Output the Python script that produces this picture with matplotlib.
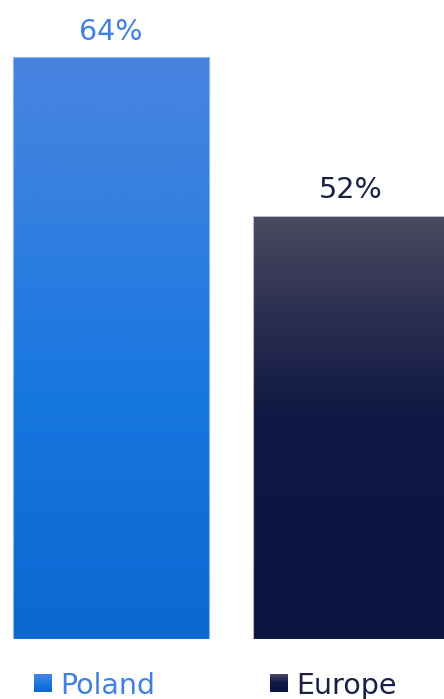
import numpy as np
import matplotlib.pyplot as plt
from matplotlib.colors import LinearSegmentedColormap
from matplotlib.patches import Rectangle

# data
regions = ["Poland", "Europe"]
shares = [64, 52]
labels = ["64%", "52%"]

# vertical gradient stops (position from top, colour) for each bar
gradients = [
    [(0.0, "#4a84e0"), (0.25, "#3580e0"), (0.59, "#1676e0"), (1.0, "#0d67d3")],
    [(0.0, "#4a4a60"), (0.2, "#303254"), (0.48, "#0e1842"), (1.0, "#0c1540")],
]
label_colors = ["#3f80e0", "#1a1f45"]
edge_colors = ["#8ab4f0", "#b8bac8"]

plt.rcParams["font.family"] = ["DejaVu Sans"]

W, H = 444, 699
fig = plt.figure(figsize=(W / 100, H / 100), dpi=100)
ax = fig.add_axes([0, 60 / H, 1, 639 / H])

x = np.arange(len(regions))
width = 0.817
base = 20
bars = ax.bar(x, np.array(shares) - base, width, bottom=base,
              color="none", edgecolor="none")

for bar, stops, ec in zip(bars, gradients, edge_colors):
    cmap = LinearSegmentedColormap.from_list("g", stops)
    grad = np.linspace(0, 1, 256).reshape(-1, 1)
    x0, y0 = bar.get_x(), bar.get_y()
    x1, y1 = x0 + bar.get_width(), y0 + bar.get_height()
    im = ax.imshow(grad, cmap=cmap, aspect="auto", origin="upper",
                   extent=(x0, x1, y0, y1), interpolation="bicubic", zorder=1)
    im.set_clip_path(bar)
    ax.add_patch(Rectangle((x0, y0), bar.get_width(), bar.get_height(),
                           fill=False, edgecolor=ec, linewidth=0.8, zorder=2))

for xi, val, lab, col in zip(x, shares, labels, label_colors):
    ax.annotate(lab, (xi, val), xytext=(0, 12.5), textcoords="offset points",
                ha="center", va="baseline", fontsize=20.5, color=col)

ax.set_xlim(-111 / 240, (W - 111) / 240)
ax.set_ylim(base, 64 + 57 * 44 / 582)
ax.axis("off")

# legend drawn as squares plus text along the bottom edge
legend_x = [34, 270]
for lx, name, stops, col in zip(legend_x, regions, gradients, label_colors):
    lax = fig.add_axes([lx / W, 7 / H, 18 / W, 18 / H])
    cmap = LinearSegmentedColormap.from_list("g", stops)
    lax.imshow(np.linspace(0, 1, 64).reshape(-1, 1), cmap=cmap,
               aspect="auto", interpolation="bicubic")
    lax.axis("off")
    fig.text((lx + 26) / W, 5 / H, name, fontsize=20.5, color=col,
             ha="left", va="baseline")

fig.savefig("out.png", dpi=100)
